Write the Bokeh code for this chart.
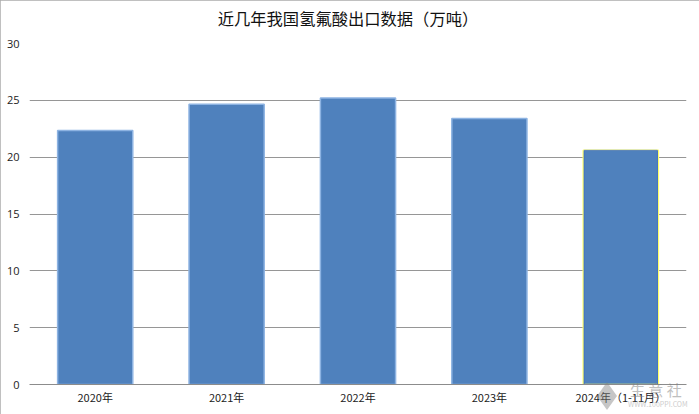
from bokeh.plotting import figure
from bokeh.embed import file_html
from bokeh.resources import INLINE
from bokeh.layouts import column
from bokeh.models import FactorRange, Range1d, FixedTicker, Div, ColumnDataSource

title_text = "近几年我国氢氟酸出口数据（万吨）"
categories = ["2020年", "2021年", "2022年", "2023年", "2024年（1-11月）"]
values = [22.35, 24.65, 25.2, 23.4, 20.6]
edge_colors = ["#8DB3E2", "#8DB3E2", "#8DB3E2", "#8DB3E2", "#FFFF66"]
y_ticks = [0, 5, 10, 15, 20, 25, 30]
watermark_name = "生 意 社"
watermark_site = "WWW.100PPI.COM"

p = figure(width=699, height=414, output_backend="svg", toolbar_location=None,
           x_range=FactorRange(factors=categories, range_padding=0),
           y_range=Range1d(0, 30),
           min_border_left=29, min_border_right=13, min_border_top=43, min_border_bottom=30,
           frame_width=657, frame_height=341,
           background_fill_color="white", border_fill_color="white", outline_line_color=None)
p.styles = {"outline": "2px solid #ABABAB", "outline-offset": "-2px"}

p.xgrid.visible = False
p.ygrid.grid_line_color = "#969696"
p.ygrid.grid_line_width = 1
p.ygrid.ticker = FixedTicker(ticks=y_ticks)

p.yaxis.ticker = FixedTicker(ticks=y_ticks)
p.yaxis.axis_line_color = None
p.yaxis.major_tick_line_color = None
p.yaxis.minor_tick_line_color = None
p.yaxis.major_tick_out = 0
p.yaxis.major_tick_in = 0
p.yaxis.major_label_standoff = 10
p.yaxis.major_label_text_font = "Open Sans"
p.yaxis.major_label_text_font_size = "11px"
p.yaxis.major_label_text_color = "#222222"

p.xaxis.axis_line_color = "#8C8C8C"
p.xaxis.major_tick_line_color = None
p.xaxis.minor_tick_line_color = None
p.xaxis.major_tick_out = 0
p.xaxis.major_tick_in = 0
p.xaxis.major_label_standoff = 4
p.xaxis.major_label_text_font = "Noto Sans CJK SC"
p.xaxis.major_label_text_font_size = "11px"
p.xaxis.major_label_text_color = "#222222"

src = ColumnDataSource(dict(x=categories, top=values, edge=edge_colors))
p.vbar(x="x", top="top", width=0.572, source=src, fill_color="#4F81BD",
       line_color="edge", line_width=1.5)
p.vbar(x=categories[-1:], top=values[-1:], width=0.558, fill_color=None,
       line_color="#4472C4", line_width=1)

title_div = Div(width=699, height=30, margin=(-414, 0, 0, 0),
                text=f"""<div style="position:relative;width:699px;height:30px;font-family:'Noto Sans CJK SC';line-height:1;white-space:nowrap;color:#111111">
<span style="position:absolute;left:348px;top:10px;transform:translateX(-50%);font-size:16.3px">{title_text}</span>
</div>""")

wm = Div(width=100, height=34, margin=(350, 0, 0, 590),
         text=f"""<div style="position:relative;width:100px;height:34px;color:#808080;font-family:'Noto Sans CJK SC';line-height:1;white-space:nowrap">
<span style="position:absolute;left:7px;top:2px;width:20px;height:28px;background:#808080;opacity:.45;clip-path:polygon(50% 0,100% 50%,50% 100%,0 50%)"></span>
<span style="position:absolute;left:40px;top:2px;font-size:15px;opacity:.5">{watermark_name}</span>
<span style="position:absolute;left:38px;top:21px;font-size:7px;opacity:.4">{watermark_site}</span>
</div>""")

open("out.html", "w").write(file_html(column(p, title_div, wm, spacing=0), INLINE))
